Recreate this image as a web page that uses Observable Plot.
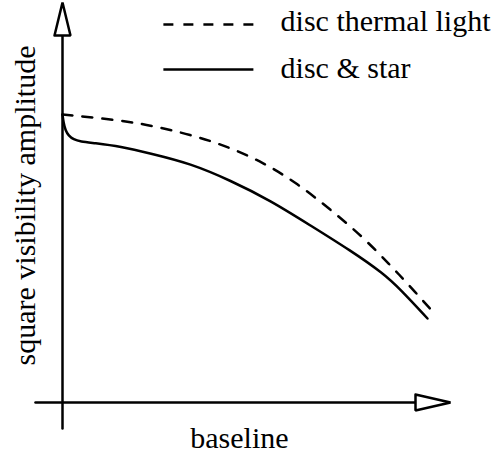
<!DOCTYPE html>
<html>
<head>
<meta charset="utf-8">
<script src="https://cdn.jsdelivr.net/npm/d3@7"></script>
<script src="https://cdn.jsdelivr.net/npm/@observablehq/plot@0.6"></script>
<style>
  html, body { margin: 0; padding: 0; background: #fff; }
  svg text, svg g[aria-label="text"] { font-family: "Liberation Serif", "Times New Roman", serif !important; }
</style>
</head>
<body>
<div id="chart"></div>
<script>
// Schematic curves (baseline in arbitrary units 0–100, visibility² in arbitrary units 0–100)
const discThermalX = [0, 7.99, 16.75, 22.68, 32.99, 42.53, 51.8, 60.57, 69.07, 77.58, 84.54, 88.92, 95.62];
const discThermalY = [72, 71.25, 70.25, 69.25, 67, 64, 60, 54.75, 48.25, 41.25, 34.25, 29.75, 22.5];
const discStarX = [0, 0.26, 0.77, 1.55, 2.84, 4.64, 7.99, 14.95, 22.68, 32.99, 43.3, 53.61, 63.92, 74.23, 82.73, 87.11, 94.07];
const discStarY = [72, 70, 68, 66.75, 65.75, 65.25, 64.875, 64, 62.25, 59.75, 55.5, 50.5, 44.25, 38, 32.25, 28.25, 21];
const seriesNames = ["disc thermal light", "disc & star"];
const xLabel = "baseline";
const yLabel = "square visibility amplitude";

const dashed = discThermalX.map((x, i) => ({x, y: discThermalY[i]}));
const solid = discStarX.map((x, i) => ({x, y: discStarY[i]}));

const font = "Liberation Serif";
const fs = 30;
const sw = 2.5;

const yAxisLine = [{x: 0, y: -6.5}, {x: 0, y: 91.75}];
const xAxisLine = [{x: -6.96, y: 0}, {x: 90.98, y: 0}];
const yArrow = [{x: -2.06, y: 91.75}, {x: 0, y: 100}, {x: 2.06, y: 91.75}, {x: -2.06, y: 91.75}];
const xArrow = [{x: 90.98, y: 2}, {x: 100, y: 0}, {x: 90.98, y: -2}, {x: 90.98, y: 2}];

const legendDashed = [{name: seriesNames[0], x1: 26.0, x2: 49.2, y: 94.5, ty: 93}];
const legendSolid = [{name: seriesNames[1], x1: 26.0, x2: 49.2, y: 83.25, ty: 81.25}];
const legend = [...legendDashed, ...legendSolid];

const chart = Plot.plot({
  width: 496,
  height: 457,
  marginLeft: 62,
  marginRight: 46,
  marginTop: 2,
  marginBottom: 55,
  x: {domain: [0, 100], axis: null},
  y: {domain: [0, 100], axis: null},
  style: {fontFamily: font, background: "white", overflow: "visible"},
  marks: [
    Plot.line(yAxisLine, {x: "x", y: "y", stroke: "black", strokeWidth: sw}),
    Plot.line(xAxisLine, {x: "x", y: "y", stroke: "black", strokeWidth: sw}),
    Plot.line(yArrow, {x: "x", y: "y", stroke: "black", strokeWidth: sw, fill: "white", strokeLinejoin: "miter"}),
    Plot.line(xArrow, {x: "x", y: "y", stroke: "black", strokeWidth: sw, fill: "white", strokeLinejoin: "miter"}),
    Plot.line(dashed, {x: "x", y: "y", stroke: "black", strokeWidth: sw, strokeDasharray: "10,10", curve: "basis"}),
    Plot.line(solid, {x: "x", y: "y", stroke: "black", strokeWidth: sw, curve: "basis"}),
    Plot.link(legendDashed, {x1: "x1", x2: "x2", y1: "y", y2: "y", stroke: "black", strokeWidth: sw, strokeDasharray: "10,10"}),
    Plot.link(legendSolid, {x1: "x1", x2: "x2", y1: "y", y2: "y", stroke: "black", strokeWidth: sw}),
    Plot.text(legend, {x: 56.2, y: "ty", text: "name", textAnchor: "start", lineAnchor: "bottom",
      fontSize: fs, fontFamily: font, fill: "black"}),
    Plot.text([xLabel], {x: 45.6, y: -11.25, text: d => d, textAnchor: "middle", lineAnchor: "bottom",
      fontSize: fs, fontFamily: font, fill: "black"}),
    Plot.text([yLabel], {x: -6.96, y: 49.25, text: d => d, textAnchor: "middle", lineAnchor: "bottom",
      rotate: -90, fontSize: fs, fontFamily: font, fill: "black"})
  ]
});
document.getElementById("chart").appendChild(chart);
</script>
</body>
</html>
